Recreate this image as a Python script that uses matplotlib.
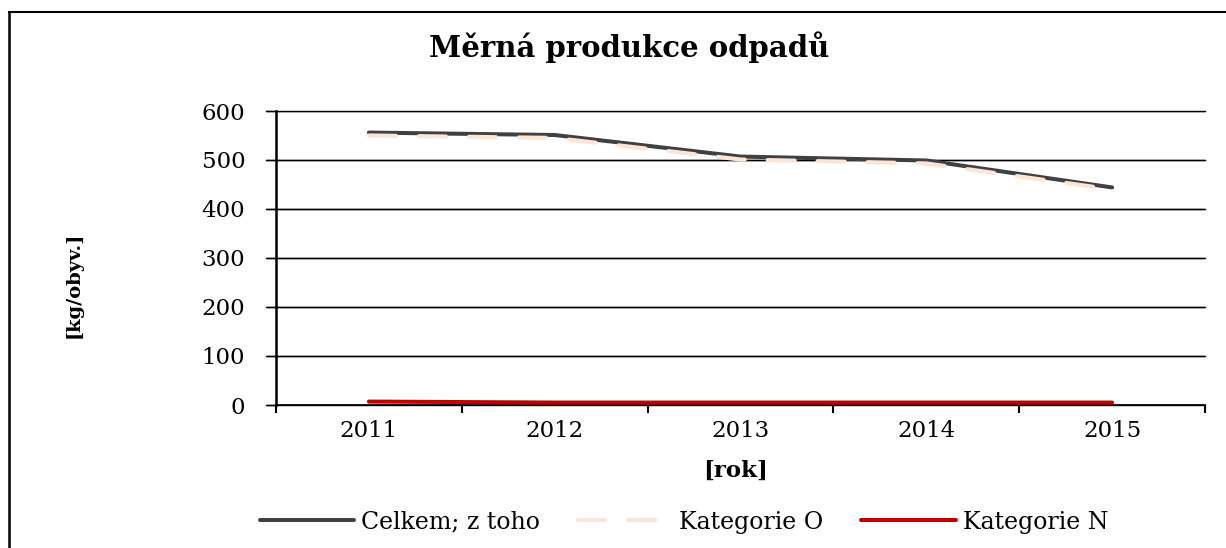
import matplotlib.pyplot as plt
from matplotlib.lines import Line2D

# data
roky = ['2011', '2012', '2013', '2014', '2015']
celkem = [556, 551, 507, 499, 444]
kategorie_o = [550, 545, 501, 493, 440]
kategorie_n = [7, 5, 5, 5, 5]
y_ticks = [0, 100, 200, 300, 400, 500, 600]

plt.rcParams['font.family'] = ['DejaVu Serif']

fig = plt.figure(figsize=(12.26, 5.48), dpi=100)
ax = fig.add_axes([276 / 1226, 1 - 405 / 548, (1205 - 276) / 1226, (405 - 111) / 548])

x = list(range(len(roky)))
ax.plot(x, celkem, color='#404040', linewidth=2.9, solid_capstyle='round',
        label='Celkem; z toho', zorder=3)
ax.plot(x, kategorie_o, color='#FBE5D6', linewidth=3, dashes=(6.5, 5.5),
        dash_capstyle='round', label='Kategorie O', zorder=3)
ax.plot(x, kategorie_n, color='#C00000', linewidth=2.9, solid_capstyle='round',
        label='Kategorie N', zorder=3)

ax.set_xlim(-0.5, len(roky) - 0.5)
ax.set_ylim(0, 600)
ax.set_yticks(y_ticks)
ax.tick_params(axis='y', length=7.2, width=1, direction='out', pad=15,
               labelsize=16.5)

# category labels at centers, tick marks at boundaries
ax.set_xticks(x)
ax.set_xticklabels(roky)
ax.set_xticks([i - 0.5 for i in range(len(roky) + 1)], minor=True)
ax.tick_params(axis='x', which='major', length=0, pad=11, labelsize=16.5)
ax.tick_params(axis='x', which='minor', length=6, width=1.5, direction='out')

ax.grid(axis='y', color='black', linewidth=1)
for yt in y_ticks:
    ax.axhline(yt, xmin=-10 / 929, xmax=1, color='black', linewidth=1,
               clip_on=False, zorder=1)

ax.spines['top'].set_visible(False)
ax.spines['right'].set_visible(False)
ax.spines['left'].set_linewidth(1.8)
ax.spines['bottom'].set_linewidth(1.2)

fig.text(629 / 1226, 1 - 47 / 548, 'Měrná produkce odpadů', ha='center',
         va='center', fontsize=21, fontweight='bold')
fig.text(736 / 1226, 1 - 471 / 548, '[rok]', ha='center', va='center',
         fontsize=16.5, fontweight='bold')
fig.text(74 / 1226, 1 - 285 / 548, '[kg/obyv.]', ha='center', va='center',
         rotation=90, fontsize=14, fontweight='bold')

handles, labels = ax.get_legend_handles_labels()
fig.legend(handles, labels, loc='center', bbox_to_anchor=(684 / 1226, 1 - 522 / 548),
           ncol=3, frameon=False, fontsize=17, handlelength=4.0,
           handletextpad=0.3, columnspacing=1.6)

# outer chart border (left and top edges visible)
fig.add_artist(Line2D([9 / 1226, 9 / 1226], [0, 1 - 12 / 548], color='black',
                      linewidth=1.8, transform=fig.transFigure))
fig.add_artist(Line2D([9 / 1226, 1], [1 - 12 / 548, 1 - 12 / 548], color='black',
                      linewidth=1.5, transform=fig.transFigure))

fig.savefig('out.png', dpi=100)
